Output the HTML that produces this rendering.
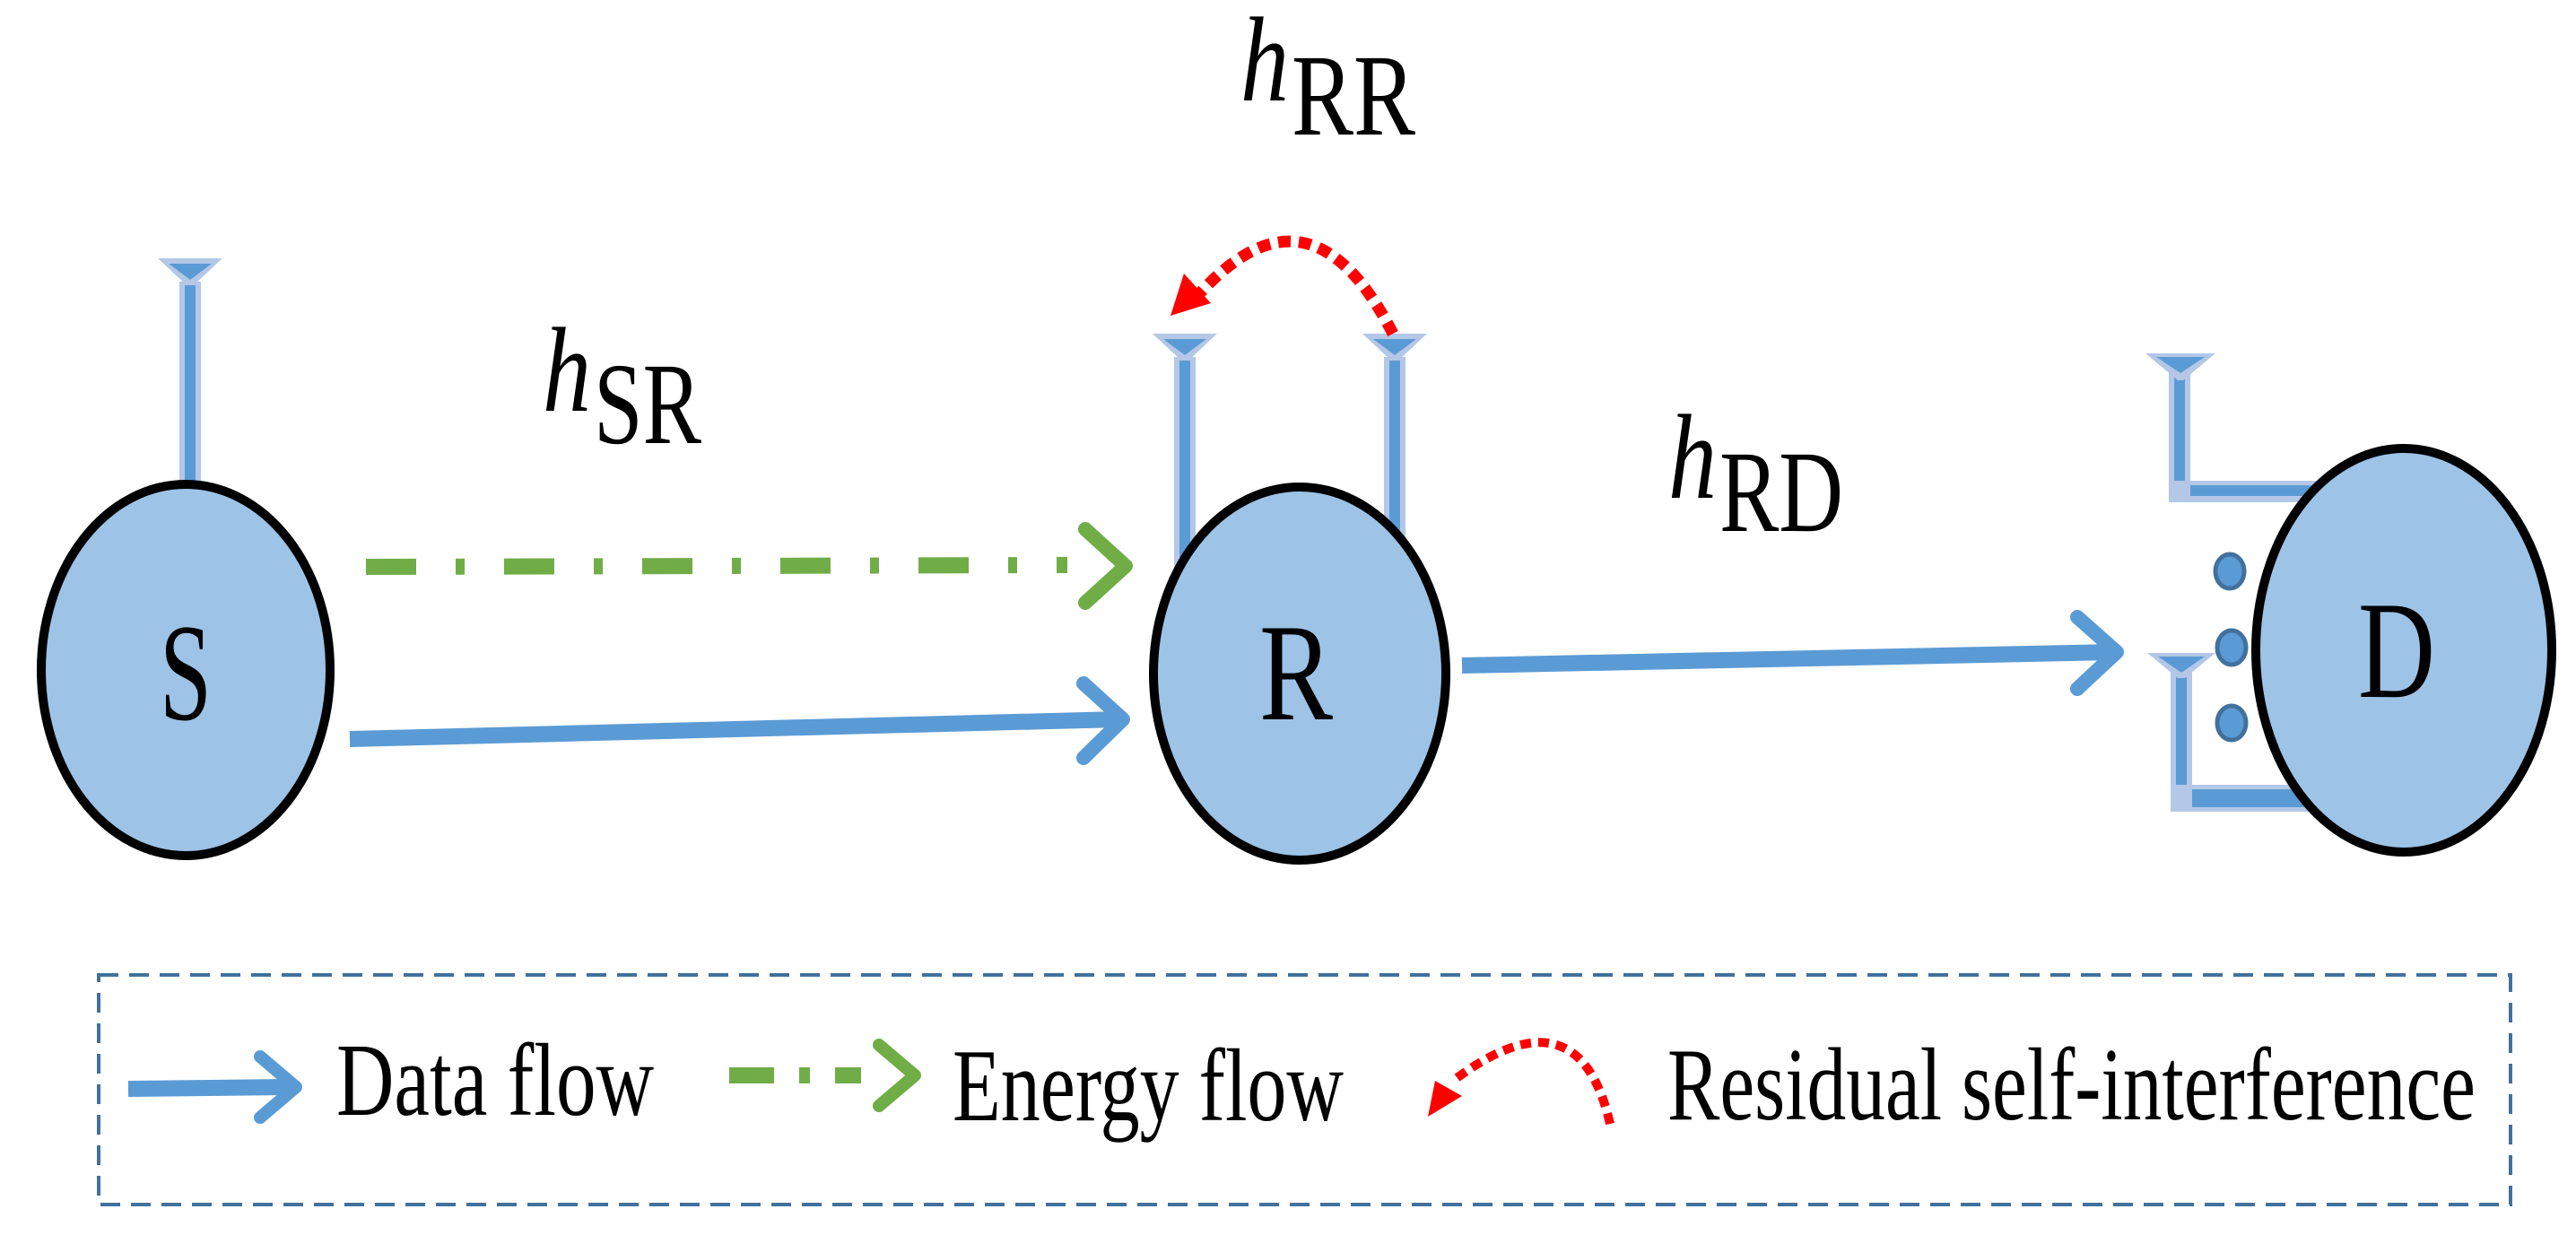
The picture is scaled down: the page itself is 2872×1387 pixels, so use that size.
<!DOCTYPE html>
<html><head><meta charset="utf-8"><style>html,body{margin:0;padding:0;background:#fff}svg{display:block}</style></head>
<body>
<svg width="2872" height="1387" viewBox="0 0 2872 1387" xmlns="http://www.w3.org/2000/svg" font-family="'Liberation Serif', serif">
<defs>
<g id="ant">
<polygon points="-36,0 36,0 4,30 -4,30" fill="#b4c7e7"/>
<polygon points="-24,6 24,6 0,24" fill="#5b9bd5"/>
<rect x="-12" y="26" width="24" height="240" fill="#b4c7e7"/>
<rect x="-6" y="30" width="12" height="236" fill="#5b9bd5"/>
</g>
</defs>

<!-- S -->
<use href="#ant" x="212" y="288"/>
<ellipse cx="207" cy="747" rx="161" ry="207" fill="#9dc3e6" stroke="#000" stroke-width="10"/>
<text x="207" y="802" font-size="155" text-anchor="middle" textLength="58" lengthAdjust="spacingAndGlyphs">S</text>

<!-- R antennas -->
<use href="#ant" x="1321" y="372"/>
<use href="#ant" x="1555" y="372"/>
<ellipse cx="1449" cy="751" rx="163" ry="208" fill="#9dc3e6" stroke="#000" stroke-width="10"/>
<text x="1445" y="802" font-size="155" text-anchor="middle" textLength="82" lengthAdjust="spacingAndGlyphs">R</text>

<!-- red arc -->
<path d="M1553,372 Q1460,190 1335,330" fill="none" stroke="#ff0000" stroke-width="13" stroke-dasharray="14,9"/>
<polygon points="1305,352 1320,305 1350,338" fill="#ff0000"/>

<!-- D antennas -->
<g>
<rect x="2418" y="400" width="24" height="160" fill="#b4c7e7"/>
<rect x="2424" y="405" width="12" height="152" fill="#5b9bd5"/>
<rect x="2418" y="536" width="170" height="24" fill="#b4c7e7"/>
<rect x="2442" y="541" width="140" height="12" fill="#5b9bd5"/>
<polygon points="2392,394 2470,394 2434,424 2428,424" fill="#b4c7e7"/>
<polygon points="2404,398 2458,398 2431,416" fill="#5b9bd5"/>

<rect x="2420" y="735" width="24" height="170" fill="#b4c7e7"/>
<rect x="2426" y="740" width="12" height="158" fill="#5b9bd5"/>
<rect x="2420" y="875" width="190" height="30" fill="#b4c7e7"/>
<rect x="2444" y="880" width="160" height="20" fill="#5b9bd5"/>
<polygon points="2394,728 2470,728 2436,756 2428,756" fill="#b4c7e7"/>
<polygon points="2406,732 2458,732 2432,750" fill="#5b9bd5"/>
</g>
<ellipse cx="2486" cy="637" rx="16" ry="19" fill="#5b9bd5" stroke="#41719c" stroke-width="5"/>
<ellipse cx="2488" cy="722" rx="16" ry="19" fill="#5b9bd5" stroke="#41719c" stroke-width="5"/>
<ellipse cx="2488" cy="806" rx="16" ry="19" fill="#5b9bd5" stroke="#41719c" stroke-width="5"/>
<ellipse cx="2680" cy="725" rx="165" ry="225" fill="#9dc3e6" stroke="#000" stroke-width="10"/>
<text x="2672" y="777" font-size="155" text-anchor="middle" textLength="86" lengthAdjust="spacingAndGlyphs">D</text>

<!-- green dash-dot -->
<line x1="408" y1="632" x2="1190" y2="630" stroke="#70ad47" stroke-width="18" stroke-dasharray="56,44,10,44"/>
<polyline points="1210,590 1255,631 1210,672" fill="none" stroke="#70ad47" stroke-width="16" stroke-linecap="round" stroke-linejoin="round"/>

<!-- blue S->R -->
<line x1="390" y1="824" x2="1248" y2="802" stroke="#5b9bd5" stroke-width="18"/>
<polyline points="1208,762 1252,802 1208,845" fill="none" stroke="#5b9bd5" stroke-width="16" stroke-linecap="round" stroke-linejoin="round"/>

<!-- blue R->D -->
<line x1="1630" y1="742" x2="2358" y2="727" stroke="#5b9bd5" stroke-width="18"/>
<polyline points="2316,688 2360,727 2316,768" fill="none" stroke="#5b9bd5" stroke-width="16" stroke-linecap="round" stroke-linejoin="round"/>

<!-- labels -->
<text x="605" y="458" font-size="135" font-style="italic" textLength="54" lengthAdjust="spacingAndGlyphs">h</text>
<text x="662" y="494" font-size="130" textLength="120" lengthAdjust="spacingAndGlyphs">SR</text>
<text x="1383" y="112" font-size="135" font-style="italic" textLength="54" lengthAdjust="spacingAndGlyphs">h</text>
<text x="1440" y="150" font-size="130" textLength="138" lengthAdjust="spacingAndGlyphs">RR</text>
<text x="1860" y="555" font-size="135" font-style="italic" textLength="54" lengthAdjust="spacingAndGlyphs">h</text>
<text x="1917" y="592" font-size="130" textLength="138" lengthAdjust="spacingAndGlyphs">RD</text>

<!-- legend -->
<rect x="110" y="1087" width="2689" height="256" fill="none" stroke="#41719c" stroke-width="4" stroke-dasharray="22,12"/>
<line x1="143" y1="1214" x2="320" y2="1212" stroke="#5b9bd5" stroke-width="18"/>
<polyline points="290,1178 330,1212 290,1246" fill="none" stroke="#5b9bd5" stroke-width="14" stroke-linecap="round" stroke-linejoin="round"/>
<text x="375" y="1243" font-size="115" textLength="354" lengthAdjust="spacingAndGlyphs">Data flow</text>
<line x1="813" y1="1199" x2="960" y2="1199" stroke="#70ad47" stroke-width="18" stroke-dasharray="50,28,12,28"/>
<polyline points="980,1165 1020,1199 980,1233" fill="none" stroke="#70ad47" stroke-width="14" stroke-linecap="round" stroke-linejoin="round"/>
<text x="1062" y="1249" font-size="115" textLength="436" lengthAdjust="spacingAndGlyphs">Energy flow</text>
<path d="M1795,1253 Q1760,1100 1620,1205" fill="none" stroke="#ff0000" stroke-width="10" stroke-dasharray="12,8"/>
<polygon points="1592,1245 1600,1205 1630,1222" fill="#ff0000"/>
<text x="1859" y="1248" font-size="115" textLength="901" lengthAdjust="spacingAndGlyphs">Residual self-interference</text>
</svg>
</body></html>
